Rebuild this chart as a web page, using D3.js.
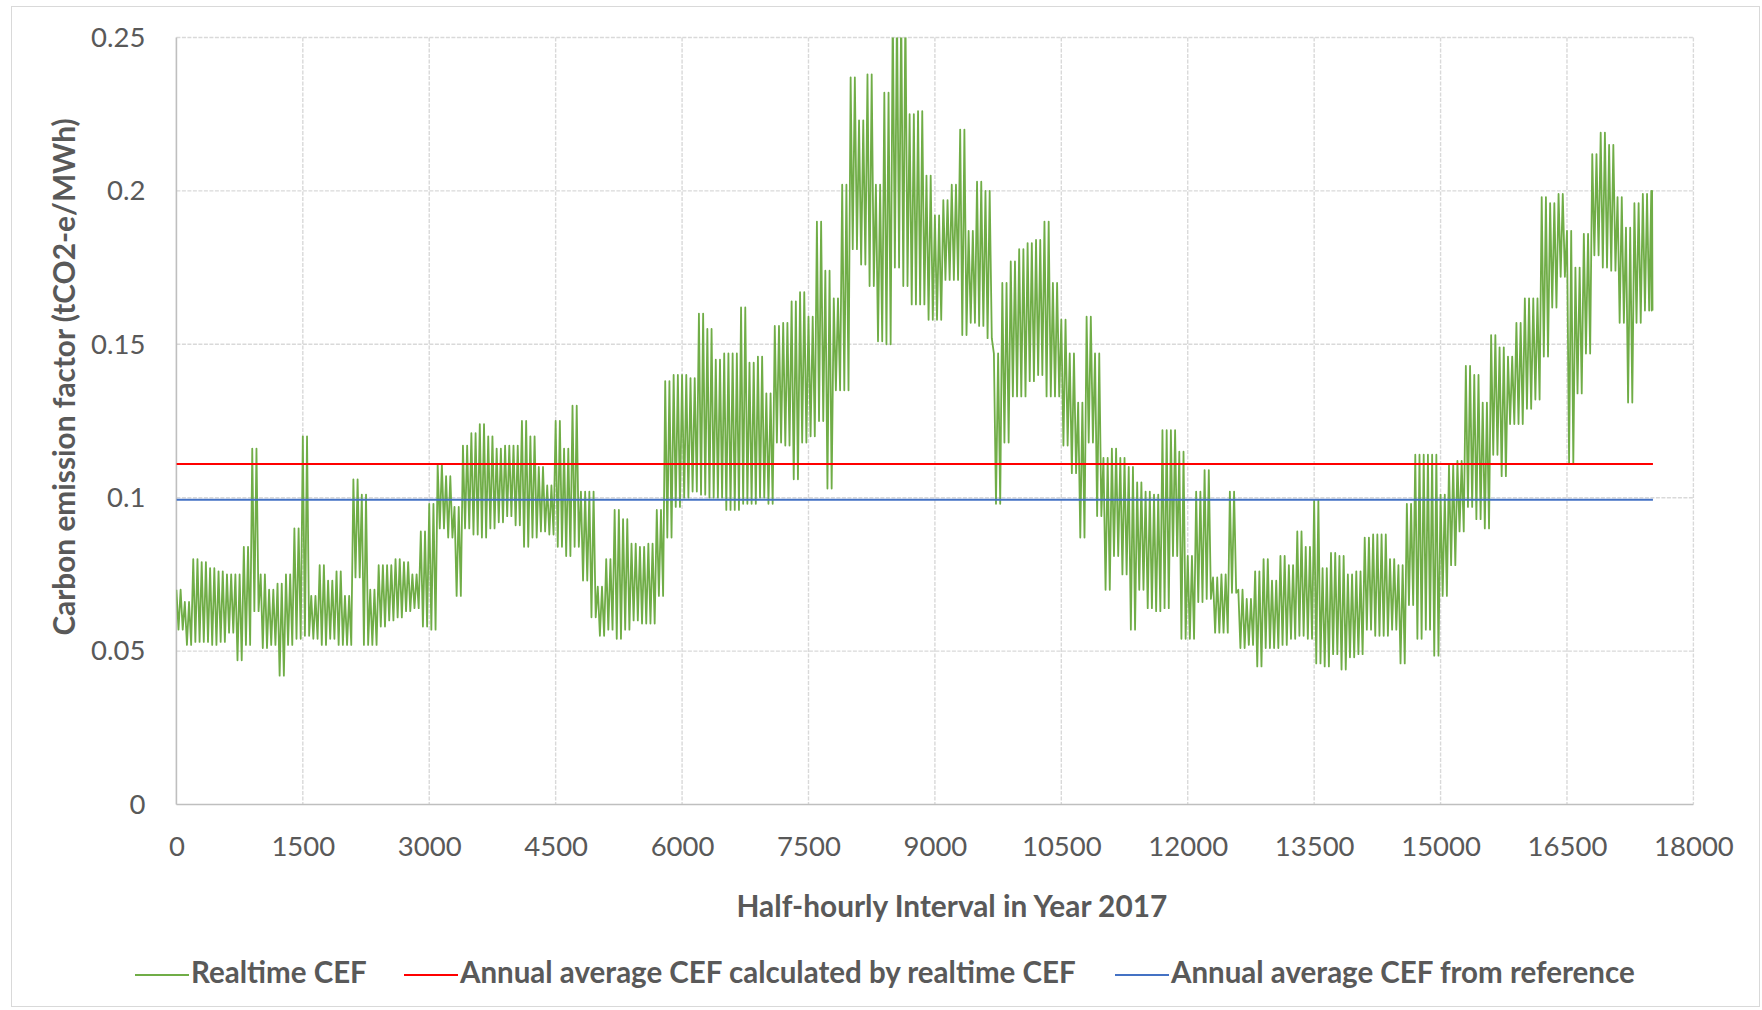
<!DOCTYPE html>
<html>
<head>
<meta charset="utf-8">
<script src="https://cdn.jsdelivr.net/npm/d3@7"></script>
<style>
  html, body { margin: 0; padding: 0; background: #ffffff; }
  svg { display: block; }
  text { font-family: Lato, "Open Sans", "DejaVu Sans", sans-serif; }
</style>
</head>
<body>
<svg id="chart" width="1762" height="1010"></svg>
<script>
// Realtime carbon emission factor, 2017, summarised per block of 100 half-hourly intervals:
// the highest and lowest value reached inside each block (block 175 covers 17500-17520).
const cefHigh = [
  0.070, 0.066, 0.080, 0.079, 0.077, 0.076, 0.075, 0.075, 0.084, 0.116,
  0.075, 0.070, 0.072, 0.075, 0.090, 0.120, 0.068, 0.078, 0.073, 0.076,
  0.068, 0.106, 0.101, 0.070, 0.078, 0.078, 0.080, 0.079, 0.075, 0.089,
  0.098, 0.111, 0.107, 0.097, 0.117, 0.121, 0.124, 0.120, 0.116, 0.117,
  0.117, 0.125, 0.120, 0.110, 0.104, 0.125, 0.116, 0.130, 0.102, 0.102,
  0.071, 0.080, 0.096, 0.093, 0.085, 0.084, 0.085, 0.096, 0.138, 0.140,
  0.140, 0.139, 0.160, 0.155, 0.145, 0.147, 0.147, 0.162, 0.144, 0.146,
  0.134, 0.156, 0.157, 0.164, 0.167, 0.159, 0.190, 0.174, 0.165, 0.202,
  0.237, 0.223, 0.238, 0.202, 0.232, 0.260, 0.260, 0.225, 0.226, 0.205,
  0.192, 0.197, 0.202, 0.220, 0.187, 0.203, 0.200, 0.147, 0.170, 0.177,
  0.181, 0.183, 0.184, 0.190, 0.170, 0.158, 0.147, 0.131, 0.159, 0.147,
  0.113, 0.116, 0.113, 0.110, 0.105, 0.102, 0.101, 0.122, 0.122, 0.115,
  0.081, 0.102, 0.109, 0.074, 0.075, 0.102, 0.070, 0.067, 0.076, 0.080,
  0.073, 0.081, 0.078, 0.089, 0.084, 0.099, 0.077, 0.082, 0.081, 0.075,
  0.076, 0.087, 0.088, 0.088, 0.080, 0.078, 0.098, 0.114, 0.114, 0.114,
  0.101, 0.111, 0.112, 0.143, 0.140, 0.131, 0.153, 0.149, 0.146, 0.157,
  0.165, 0.165, 0.198, 0.196, 0.199, 0.187, 0.175, 0.186, 0.212, 0.219,
  0.215, 0.198, 0.188, 0.196, 0.199, 0.200
];
const cefLow = [
  0.057, 0.052, 0.053, 0.053, 0.052, 0.053, 0.056, 0.047, 0.052, 0.063,
  0.051, 0.052, 0.042, 0.052, 0.054, 0.055, 0.054, 0.052, 0.054, 0.052,
  0.052, 0.074, 0.052, 0.052, 0.058, 0.060, 0.061, 0.063, 0.064, 0.058,
  0.057, 0.090, 0.087, 0.068, 0.090, 0.088, 0.087, 0.090, 0.092, 0.094,
  0.091, 0.084, 0.087, 0.089, 0.088, 0.084, 0.081, 0.084, 0.073, 0.061,
  0.055, 0.057, 0.054, 0.057, 0.060, 0.059, 0.059, 0.068, 0.087, 0.097,
  0.100, 0.102, 0.101, 0.100, 0.100, 0.096, 0.096, 0.098, 0.098, 0.100,
  0.098, 0.118, 0.117, 0.106, 0.118, 0.120, 0.125, 0.103, 0.135, 0.135,
  0.181, 0.176, 0.169, 0.151, 0.150, 0.175, 0.169, 0.163, 0.163, 0.158,
  0.158, 0.171, 0.171, 0.153, 0.157, 0.156, 0.152, 0.098, 0.118, 0.133,
  0.133, 0.138, 0.140, 0.133, 0.133, 0.117, 0.108, 0.087, 0.118, 0.094,
  0.070, 0.081, 0.075, 0.057, 0.070, 0.064, 0.063, 0.064, 0.081, 0.054,
  0.054, 0.066, 0.067, 0.056, 0.056, 0.069, 0.051, 0.052, 0.045, 0.051,
  0.051, 0.052, 0.054, 0.055, 0.054, 0.046, 0.045, 0.049, 0.044, 0.048,
  0.049, 0.057, 0.055, 0.055, 0.057, 0.046, 0.065, 0.054, 0.057, 0.0485,
  0.068, 0.078, 0.089, 0.097, 0.093, 0.090, 0.114, 0.107, 0.124, 0.124,
  0.129, 0.132, 0.146, 0.162, 0.172, 0.111, 0.134, 0.147, 0.179, 0.175,
  0.174, 0.157, 0.131, 0.157, 0.161, 0.161
];
const blockSize = 100;
const intervalCount = 17520;

// Annual averages
const avgFromRealtime = 0.111;
const avgFromReference = 0.0993;

// Axes
const xTickValues = [0, 1500, 3000, 4500, 6000, 7500, 9000, 10500, 12000, 13500, 15000, 16500, 18000];
const yTickValues = [0, 0.05, 0.1, 0.15, 0.2, 0.25];
const yTickLabels = ["0", "0.05", "0.1", "0.15", "0.2", "0.25"];

const xTitle = "Half-hourly Interval in Year 2017";
const yTitle = "Carbon emission factor (tCO2-e/MWh)";
const seriesNames = ["Realtime CEF", "Annual average CEF calculated by realtime CEF", "Annual average CEF from reference"];
const seriesColors = ["#70AD47", "#FF0000", "#4472C4"];

const svg = d3.select("#chart");
const plot = { left: 176.4, right: 1693.4, top: 37.5, bottom: 804.5 };

const x = d3.scaleLinear().domain([0, 18000]).range([plot.left, plot.right]);
const y = d3.scaleLinear().domain([0, 0.25]).range([plot.bottom, plot.top]);

// chart frame
svg.append("rect")
  .attr("x", 11.5).attr("y", 6.5).attr("width", 1748).attr("height", 1000)
  .attr("fill", "#fff").attr("stroke", "#d9d9d9").attr("stroke-width", 1);

// gridlines
const grid = svg.append("g").attr("stroke", "#d9d9d9").attr("stroke-width", 1.4);
grid.selectAll(".hg").data(yTickValues.filter(d => d > 0)).join("line")
  .attr("x1", plot.left).attr("x2", plot.right)
  .attr("y1", d => y(d)).attr("y2", d => y(d))
  .attr("stroke-dasharray", "4,1.5");
grid.selectAll(".vg").data(xTickValues.filter(d => d > 0)).join("line")
  .attr("x1", d => x(d)).attr("x2", d => x(d))
  .attr("y1", plot.top).attr("y2", plot.bottom)
  .attr("stroke-dasharray", "4,1.5");

// axis lines
svg.append("line").attr("x1", plot.left).attr("x2", plot.left)
  .attr("y1", plot.top).attr("y2", plot.bottom)
  .attr("stroke", "#bfbfbf").attr("stroke-width", 1.6);
svg.append("line").attr("x1", plot.left).attr("x2", plot.right)
  .attr("y1", plot.bottom).attr("y2", plot.bottom)
  .attr("stroke", "#bfbfbf").attr("stroke-width", 1.6);

// tick labels through d3 axes (no domain/tick lines)
const yAxis = d3.axisLeft(y).tickValues(yTickValues)
  .tickFormat((d, i) => yTickLabels[i]).tickSize(0).tickPadding(31);
const gy = svg.append("g").attr("transform", `translate(${plot.left},0)`).call(yAxis);
const xAxis = d3.axisBottom(x).tickValues(xTickValues).tickFormat(d3.format("d")).tickSize(0).tickPadding(32);
const gx = svg.append("g").attr("transform", `translate(0,${plot.bottom})`).call(xAxis);
[gx, gy].forEach(g => {
  g.select(".domain").remove();
  g.selectAll("text").attr("font-family", "Lato, 'Open Sans', sans-serif")
    .attr("font-size", 27.5).attr("fill", "#595959");
});

// clip to plot area
svg.append("clipPath").attr("id", "plotClip").append("rect")
  .attr("x", plot.left).attr("y", plot.top)
  .attr("width", plot.right - plot.left).attr("height", plot.bottom - plot.top);

// realtime series: inside each block the line swings twice between the block's
// high and low, like the raw half-hourly trace oscillating through the day
const pts = [];
cefHigh.forEach((hi, i) => {
  const lo = cefLow[i];
  const start = i * blockSize;
  const end = Math.min(start + blockSize, intervalCount);
  const w = end - start;
  [hi, lo, hi, lo].forEach((v, k) => pts.push([start + (k * w) / 4, v]));
});
const line = d3.line().x(d => x(d[0])).y(d => y(d[1]));

const layer = svg.append("g").attr("clip-path", "url(#plotClip)");
layer.append("path").datum(pts)
  .attr("d", line).attr("fill", "none")
  .attr("stroke", seriesColors[0]).attr("stroke-width", 1.8)
  .attr("stroke-linejoin", "round");

// annual averages
[avgFromRealtime, avgFromReference].forEach((v, i) => {
  layer.append("path").datum([[0, v], [intervalCount, v]])
    .attr("d", line).attr("fill", "none")
    .attr("stroke", seriesColors[i + 1]).attr("stroke-width", 2);
});

// axis titles
svg.append("text")
  .attr("x", (plot.left + plot.right) / 2 + 17).attr("y", 909)
  .attr("text-anchor", "middle").attr("dominant-baseline", "middle")
  .attr("font-size", 29.8).attr("font-weight", "bold").attr("fill", "#595959")
  .text(xTitle);
svg.append("text")
  .attr("transform", `translate(67,${(plot.top + plot.bottom) / 2 - 44}) rotate(-90)`)
  .attr("text-anchor", "middle").attr("dominant-baseline", "middle")
  .attr("font-size", 29.8).attr("font-weight", "bold").attr("fill", "#595959")
  .text(yTitle);

// legend
const legendX = [135, 404, 1115];
const legend = svg.append("g");
seriesNames.forEach((name, i) => {
  legend.append("line")
    .attr("x1", legendX[i]).attr("x2", legendX[i] + 54)
    .attr("y1", 975).attr("y2", 975)
    .attr("stroke", seriesColors[i]).attr("stroke-width", 2);
  legend.append("text")
    .attr("x", legendX[i] + 56).attr("y", 975)
    .attr("dominant-baseline", "middle")
    .attr("font-size", 29.5).attr("font-weight", "bold").attr("fill", "#595959")
    .text(name);
});
</script>
</body>
</html>
